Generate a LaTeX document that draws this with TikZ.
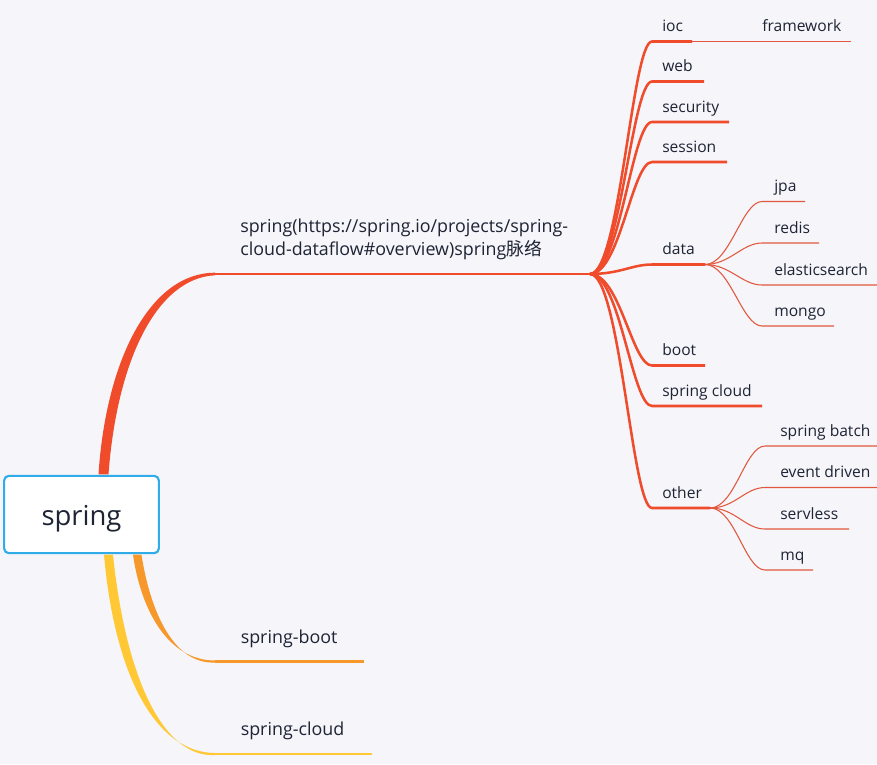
\documentclass[tikz,border=0pt]{standalone}
\usepackage{fontspec}
\setmainfont{Open Sans}
\newfontfamily\cjk{Noto Sans CJK SC}
\usepackage{tikz}
\usetikzlibrary{positioning,calc}

\definecolor{paper}{RGB}{245,245,250}
\definecolor{ink}{RGB}{30,36,52}
\definecolor{rootblue}{RGB}{48,172,232}
\definecolor{sred}{RGB}{240,76,44}
\definecolor{sred2}{RGB}{226,88,62}
\definecolor{sorange}{RGB}{247,152,42}
\definecolor{syellow}{RGB}{255,200,52}

\begin{document}
\begin{tikzpicture}[x=0.75pt,y=-0.75pt,line join=round]
    \tikzstyle{every node}=[inner sep=0pt, text=ink, font=\fontsize{11.7}{14}\selectfont]
    \tikzstyle{root}=[draw=rootblue, fill=white, line width=1.6pt, rounded corners=3.5pt,
      minimum width=116pt, minimum height=58pt, text height=21pt, text depth=5pt,
      font=\fontsize{20.6}{24}\selectfont]
    \tikzstyle{bigtxt}=[anchor=base west, font=\fontsize{13.4}{17.5}\selectfont]
    \tikzstyle{hubline}=[draw=sred, line width=1.9pt]
    \tikzstyle{subline}=[draw=sred2, line width=0.8pt]

    \fill[paper] (0,0) rectangle (877,764);
    \useasboundingbox (0,0) rectangle (877,764);

    % centre topic
    \node[root] (spring) at (81.5,514.5) {spring};

    % main branches
    \coordinate (rA) at ($(spring.north)+(17,-0.5)$);
    \coordinate (rB) at ($(spring.north)+(27,-0.5)$);
    \coordinate (bigjoin) at (215,274);
    \coordinate (hub) at (590,274);
    \fill[sred] (rA) .. controls (106,360) and (150,272.8) .. ($(bigjoin)+(0,-1.3)$)
      -- ($(bigjoin)+(0,1.3)$) .. controls (157,278) and (117,360) .. (rB) -- cycle;
    \draw[sred, line width=1.6pt] (bigjoin) -- (hub);
    \node[bigtxt, align=left] (springlbl) at (240,255.5)
      {spring(https://spring.io/projects/spring-\\cloud-dataflow\#overview)spring{\cjk 脉络}};

    \coordinate (oA) at ($(spring.south)+(51.5,0.5)$);
    \coordinate (oB) at ($(spring.south)+(60,0.5)$);
    \coordinate (bootjoin) at (215,661.5);
    \coordinate (boot-end) at (364,661.5);
    \fill[sorange] (oA) .. controls (141,610) and (168,660.5) .. ($(bootjoin)+(0,-1)$)
      -- ($(bootjoin)+(0,1)$) .. controls (173,664.5) and (150,610) .. (oB) -- cycle;
    \draw[sorange, line width=1.6pt] (bootjoin) -- (boot-end);
    \node[bigtxt] (springboot) at (240.5,643) {spring-boot};

    \coordinate (yA) at ($(spring.south)+(22.5,0.5)$);
    \coordinate (yB) at ($(spring.south)+(31.5,0.5)$);
    \coordinate (cloudjoin) at (215,754);
    \coordinate (cloud-end) at (372,754);
    \fill[syellow] (yA) .. controls (115,680) and (158,752.8) .. ($(cloudjoin)+(0,-1)$)
      -- ($(cloudjoin)+(0,1)$) .. controls (164,758) and (126,680) .. (yB) -- cycle;
    \draw[syellow, line width=1.6pt] (cloudjoin) -- (cloud-end);
    \node[bigtxt] (springcloud) at (240.5,735.5) {spring-cloud};

    % topics off the hub
    \foreach \nm/\txt/\yy/\xe in {ioc/ioc/41.5/692, web/web/81.5/704, security/security/122/729,
        session/session/162/727, data/data/264.5/705, boot/boot/365.5/705,
        cloud/spring cloud/406/762, other/other/508/710}{
      \coordinate (\nm-s) at (652,\yy);
      \coordinate (\nm-e) at (\xe,\yy);
      \node[anchor=base west] (\nm) at ($(\nm-s)+(10,-10)$) {\txt};
      \draw[hubline] (hub) .. controls ($(hub)+(30,0)$) and ($(\nm-s)+(-20,0)$) .. (\nm-s) -- (\nm-e);
    }

    % ioc -> framework
    \coordinate (fw-e) at (851,41.5);
    \node[anchor=base west] (framework) at (762,31.5) {framework};
    \draw[subline] (ioc-e) -- (fw-e);

    % data
    \foreach \nm/\txt/\yy/\xe in {jpa/jpa/201.5/805, redis/redis/243/819,
        es/elasticsearch/285/877, mongo/mongo/326/834}{
      \coordinate (\nm-s) at (762,\yy);
      \coordinate (\nm-e) at (\xe,\yy);
      \node[anchor=base west] (\nm) at ($(\nm-s)+(12,-10)$) {\txt};
      \draw[subline] (data-e) .. controls ($(data-e)+(25,0)$) and ($(\nm-s)+(-20,0)$) .. (\nm-s) -- (\nm-e);
    }

    % other
    \foreach \nm/\txt/\yy/\xe in {batch/spring batch/446/877, event/event driven/487.5/877,
        servless/servless/529/849, mq/mq/570/813}{
      \coordinate (\nm-s) at (765,\yy);
      \coordinate (\nm-e) at (\xe,\yy);
      \node[anchor=base west] (\nm) at ($(\nm-s)+(15,-10)$) {\txt};
      \draw[subline] (other-e) .. controls ($(other-e)+(25,0)$) and ($(\nm-s)+(-20,0)$) .. (\nm-s) -- (\nm-e);
    }
\end{tikzpicture}
\end{document}
